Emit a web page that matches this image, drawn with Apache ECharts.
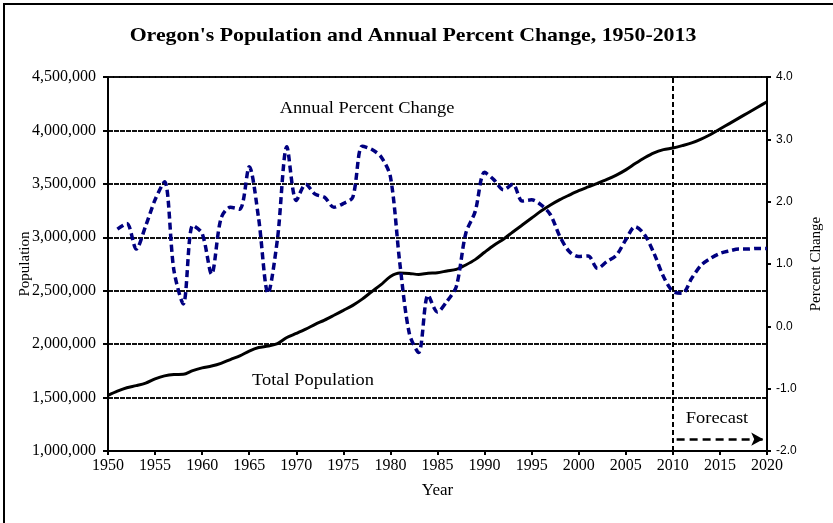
<!DOCTYPE html>
<html>
<head>
<meta charset="utf-8">
<title>Oregon's Population and Annual Percent Change</title>
<script src="https://cdn.jsdelivr.net/npm/echarts@6.0.0/dist/echarts.min.js"></script>
<style>
  html, body { margin: 0; padding: 0; background: #fff; }
  #chart { width: 833px; height: 523px; }
</style>
</head>
<body>
<div id="chart"></div>
<script>
// population by year, 1950-2020 (2014 on is forecast)
var popYears = [1950, 1951, 1952, 1953, 1954, 1955, 1956, 1957, 1958, 1959,
  1960, 1961, 1962, 1963, 1964, 1965, 1966, 1967, 1968, 1969,
  1970, 1971, 1972, 1973, 1974, 1975, 1976, 1977, 1978, 1979,
  1980, 1981, 1982, 1983, 1984, 1985, 1986, 1987, 1988, 1989,
  1990, 1991, 1992, 1993, 1994, 1995, 1996, 1997, 1998, 1999,
  2000, 2001, 2002, 2003, 2004, 2005, 2006, 2007, 2008, 2009,
  2010, 2011, 2012, 2013, 2014, 2015, 2016, 2017, 2018, 2019, 2020];
var population = [1521000, 1560000, 1592000, 1612000, 1636000, 1675000, 1703000, 1716000, 1718000, 1752000,
  1778000, 1795000, 1820000, 1856000, 1890000, 1935000, 1968000, 1982000, 2005000, 2062000,
  2100000, 2140000, 2185000, 2225000, 2270000, 2316000, 2363000, 2421000, 2490000, 2557000,
  2633000, 2666000, 2662000, 2652000, 2663000, 2668000, 2685000, 2700000, 2741000, 2791000,
  2860000, 2926000, 2982000, 3050000, 3115000, 3180000, 3245000, 3302000, 3352000, 3395000,
  3436000, 3471000, 3505000, 3541000, 3582000, 3631000, 3690000, 3745000, 3791000, 3820000,
  3836000, 3858000, 3883000, 3919000, 3962000, 4013000, 4064000, 4115000, 4166000, 4217000, 4268000];

// annual percent change, 1951-2020
var pctYears = [1951, 1952, 1953, 1954, 1955, 1956, 1957, 1958, 1959,
  1960, 1961, 1962, 1963, 1964, 1965, 1966, 1967, 1968, 1969,
  1970, 1971, 1972, 1973, 1974, 1975, 1976, 1977, 1978, 1979,
  1980, 1981, 1982, 1983, 1984, 1985, 1986, 1987, 1988, 1989,
  1990, 1991, 1992, 1993, 1994, 1995, 1996, 1997, 1998, 1999,
  2000, 2001, 2002, 2003, 2004, 2005, 2006, 2007, 2008, 2009,
  2010, 2011, 2012, 2013, 2014, 2015, 2016, 2017, 2018, 2019, 2020];
var pctChange = [1.56, 1.65, 1.24, 1.61, 2.03, 2.32, 0.90, 0.36, 1.62,
  1.49, 0.84, 1.73, 1.91, 1.88, 2.56, 1.73, 0.53, 1.40, 2.88,
  2.02, 2.28, 2.12, 2.07, 1.91, 1.97, 2.07, 2.89, 2.84, 2.72,
  2.40, 1.01, -0.11, -0.42, 0.50, 0.23, 0.40, 0.64, 1.49, 1.84,
  2.47, 2.35, 2.19, 2.28, 2.01, 2.03, 1.95, 1.79, 1.44, 1.20,
  1.12, 1.13, 0.93, 1.04, 1.14, 1.39, 1.60, 1.47, 1.17, 0.80,
  0.56, 0.53, 0.77, 0.98, 1.09, 1.17, 1.21, 1.24, 1.24, 1.25, 1.25];

var forecastStart = 2010;

function pairs(xs, ys) {
  var out = [];
  for (var i = 0; i < xs.length; i++) out.push([xs[i], ys[i]]);
  return out;
}

var serif = 'Liberation Serif';
var sans = 'Liberation Sans';

function note(text, x, y, size, weight) {
  return {
    type: 'text', x: x, y: y, scaleX: 1.15, silent: true,
    style: {
      text: text, fill: '#000', textAlign: 'center', textVerticalAlign: 'middle',
      font: (weight || 'normal') + ' ' + size + 'px "Liberation Serif"'
    }
  };
}

var chart = echarts.init(document.getElementById('chart'));
chart.setOption({
  animation: false,
  grid: {
    left: 108, right: 66, top: 77, bottom: 72,
    show: true, borderColor: '#000', borderWidth: 2
  },
  xAxis: {
    type: 'value',
    min: 1950, max: 2020, interval: 5,
    name: 'Year',
    nameLocation: 'middle',
    nameGap: 31,
    nameTextStyle: { fontFamily: serif, fontSize: 17, color: '#000' },
    axisLine: { onZero: false, lineStyle: { color: '#000', width: 2 } },
    axisTick: { length: 4, lineStyle: { color: '#000', width: 2 } },
    axisLabel: {
      fontFamily: serif, fontSize: 16, color: '#000', margin: 7,
      formatter: function (v) { return String(v); }
    },
    splitLine: { show: false }
  },
  yAxis: [{
    type: 'value',
    min: 1000000, max: 4500000, interval: 500000,
    name: 'Population',
    nameLocation: 'middle',
    nameGap: 75,
    nameMoveOverlap: false,
    nameRotate: 90,
    nameTextStyle: { fontFamily: serif, fontSize: 15, color: '#000' },
    axisLine: { show: true, onZero: false, lineStyle: { color: '#000', width: 2 } },
    axisTick: { show: true, length: 5, lineStyle: { color: '#000', width: 2 } },
    axisLabel: {
      fontFamily: serif, fontSize: 16, color: '#000', margin: 12,
      formatter: function (v) { return v.toLocaleString('en-US'); }
    },
    splitLine: { lineStyle: { color: '#111', width: 2, type: [5, 1] } }
  }, {
    type: 'value',
    min: -2, max: 4, interval: 1,
    position: 'right',
    name: 'Percent Change',
    nameLocation: 'middle',
    nameGap: 42,
    nameMoveOverlap: false,
    nameRotate: 90,
    nameTextStyle: { fontFamily: serif, fontSize: 15, color: '#000' },
    axisLine: { show: true, onZero: false, lineStyle: { color: '#000', width: 2 } },
    axisTick: { show: true, length: 4, lineStyle: { color: '#000', width: 2 } },
    axisLabel: {
      fontFamily: sans, fontSize: 12, color: '#000', margin: 9,
      formatter: function (v) { return v.toFixed(1); }
    },
    splitLine: { show: false }
  }],
  series: [{
    name: 'Total Population',
    type: 'line',
    yAxisIndex: 0,
    data: pairs(popYears, population),
    smooth: 0.3,
    symbol: 'none',
    lineStyle: { color: '#000', width: 3 },
    z: 3
  }, {
    name: 'Annual Percent Change',
    type: 'line',
    yAxisIndex: 1,
    data: pairs(pctYears, pctChange),
    smooth: 0.3,
    symbol: 'none',
    lineStyle: { color: '#000080', width: 3.5, type: [7, 4] },
    z: 4,
    markLine: {
      silent: true,
      symbol: ['none', 'none'],
      label: { show: false },
      lineStyle: { color: '#000', width: 2.5, type: [8, 5] },
      data: [
        {
          xAxis: forecastStart,
          lineStyle: { color: '#000', width: 2, type: [5, 3] }
        },
        [
          { coord: [2010.4, -1.81], symbol: 'none' },
          { coord: [2019.6, -1.81], symbol: 'arrow', symbolSize: [10, 12] }
        ]
      ]
    }
  }],
  graphic: [
    {
      type: 'rect', silent: true,
      shape: { x: 4, y: 4, width: 900, height: 600 },
      style: { fill: 'none', stroke: '#000', lineWidth: 2 }
    },
    note("Oregon's Population and Annual Percent Change, 1950-2013", 413, 36, 19, 'bold'),
    note('Annual Percent Change', 367, 109, 16),
    note('Total Population', 313, 381, 16),
    note('Forecast', 717, 419, 16)
  ]
});
</script>
</body>
</html>
